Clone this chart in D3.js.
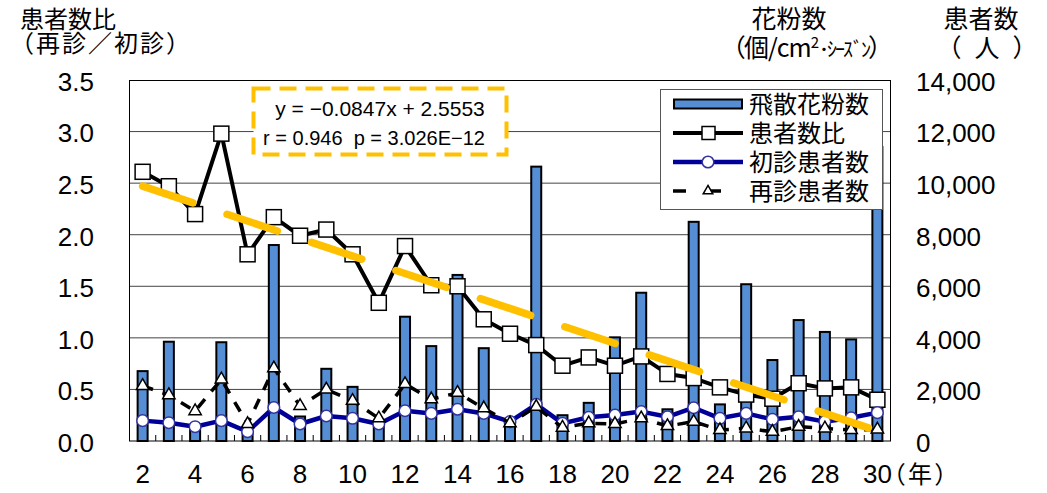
<!DOCTYPE html>
<html>
<head>
<meta charset="utf-8">
<script src="https://cdn.jsdelivr.net/npm/d3@7"></script>
<style>
  body { margin: 0; background: #fff; }
  text { font-family: "Noto Sans CJK JP", sans-serif; font-feature-settings: "palt"; fill: #000; }
  .num { font-family: "Liberation Sans", Arial, sans-serif; font-feature-settings: normal; }
</style>
</head>
<body>
<svg id="chart" width="1047" height="493"></svg>
<script>
// 平成2年〜30年
const years = [2, 3, 4, 5, 6, 7, 8, 9, 10, 11, 12, 13, 14, 15, 16, 17, 18, 19, 20, 21, 22, 23, 24, 25, 26, 27, 28, 29, 30];
const pollen = [2710, 3850, 500, 3830, 350, 7600, 950, 2800, 2100, 700, 4820, 3680, 6440, 3600, 750, 10640, 1000, 1480, 4020, 5750, 1230, 8500, 1420, 6080, 3140, 4690, 4230, 3940, 11400];
const ratio = [2.61, 2.47, 2.20, 2.98, 1.81, 2.17, 1.99, 2.05, 1.81, 1.34, 1.89, 1.51, 1.50, 1.18, 1.04, 0.93, 0.73, 0.81, 0.73, 0.82, 0.65, 0.61, 0.52, 0.45, 0.41, 0.56, 0.51, 0.52, 0.40];
const firstVisit = [790, 710, 555, 790, 360, 1300, 660, 970, 880, 660, 1175, 1070, 1230, 1070, 750, 1420, 685, 920, 1010, 1140, 940, 1290, 880, 1070, 840, 940, 750, 900, 1100];
const returnVisit = [2140, 1780, 1160, 2390, 660, 2820, 1360, 2000, 1560, 880, 2210, 1620, 1870, 1270, 690, 1330, 520, 690, 660, 880, 580, 750, 425, 490, 360, 555, 490, 425, 450];
const leftTicks = [0, 0.5, 1.0, 1.5, 2.0, 2.5, 3.0, 3.5];
const rightTicks = [0, 2000, 4000, 6000, 8000, 10000, 12000, 14000];
const xLabels = [2, 4, 6, 8, 10, 12, 14, 16, 18, 20, 22, 24, 26, 28, 30];
const slope = -0.0847, intercept = 2.5553;
const statsLines = ["y = \u22120.0847x + 2.5553", "r = 0.946  p = 3.026E\u221212"];
const legendNames = ["飛散花粉数", "患者数比", "初診患者数", "再診患者数"];

const svg = d3.select("#chart");
const plotL = 129.5, plotR = 890.5, plotT = 80, plotB = 441;

const x = d3.scaleBand().domain(years).range([plotL, plotR]);
const yL = d3.scaleLinear().domain([0, 3.5]).range([plotB, plotT]);
const yR = d3.scaleLinear().domain([0, 14000]).range([plotB, plotT]);
const cx = d => x(d) + x.bandwidth() / 2;

// gridlines
svg.append("g")
  .selectAll("line")
  .data(leftTicks.slice(1, -1))
  .join("line")
    .attr("x1", plotL).attr("x2", plotR)
    .attr("y1", d => yL(d)).attr("y2", d => yL(d))
    .attr("stroke", "#444").attr("stroke-width", 1);

// bars
svg.append("g")
  .selectAll("rect")
  .data(years)
  .join("rect")
    .attr("x", d => cx(d) - 5)
    .attr("y", (d, i) => yR(pollen[i]))
    .attr("width", 10)
    .attr("height", (d, i) => plotB - yR(pollen[i]))
    .attr("fill", "#558ed5")
    .attr("stroke", "#000")
    .attr("stroke-width", 2);

// frame
svg.append("rect")
  .attr("x", plotL).attr("y", plotT + 0.5)
  .attr("width", plotR - plotL).attr("height", plotB - plotT - 0.5)
  .attr("fill", "none").attr("stroke", "#000").attr("stroke-width", 1);

// inner minor ticks on the category axis
svg.append("g")
  .selectAll("line")
  .data(years.slice(1))
  .join("line")
    .attr("x1", d => x(d)).attr("x2", d => x(d))
    .attr("y1", plotB).attr("y2", plotB - 6)
    .attr("stroke", "#000");

// 患者数比
const ratioLine = d3.line().x(d => cx(d[0])).y(d => yL(d[1]));
svg.append("path")
  .datum(years.map((d, i) => [d, ratio[i]]))
  .attr("d", ratioLine)
  .attr("fill", "none").attr("stroke", "#000").attr("stroke-width", 4)
  .attr("stroke-linejoin", "round");
svg.append("g")
  .selectAll("rect")
  .data(years)
  .join("rect")
    .attr("x", d => cx(d) - 7.5)
    .attr("y", (d, i) => yL(ratio[i]) - 7.5)
    .attr("width", 15).attr("height", 15)
    .attr("fill", "#fff").attr("stroke", "#000").attr("stroke-width", 1.5);

// 初診患者数
const rLine = d3.line().x(d => cx(d[0])).y(d => yR(d[1]));
svg.append("path")
  .datum(years.map((d, i) => [d, firstVisit[i]]))
  .attr("d", rLine)
  .attr("fill", "none").attr("stroke", "#000099").attr("stroke-width", 4.5)
  .attr("stroke-linejoin", "round");
svg.append("g")
  .selectAll("circle")
  .data(years)
  .join("circle")
    .attr("cx", d => cx(d))
    .attr("cy", (d, i) => yR(firstVisit[i]))
    .attr("r", 5.8)
    .attr("fill", "#fff").attr("stroke", "#3333a0").attr("stroke-width", 1.5);

// 再診患者数
svg.append("path")
  .datum(years.map((d, i) => [d, returnVisit[i]]))
  .attr("d", rLine)
  .attr("fill", "none").attr("stroke", "#000").attr("stroke-width", 3.5)
  .attr("stroke-dasharray", "11,10");
const tri = d3.symbol(d3.symbolTriangle, 66);
svg.append("g")
  .selectAll("path")
  .data(years)
  .join("path")
    .attr("d", tri)
    .attr("transform", (d, i) => `translate(${cx(d)},${yR(returnVisit[i])})`)
    .attr("fill", "#fff").attr("stroke", "#000").attr("stroke-width", 1.5);

// regression line
const i0 = 1, i1 = years.length;
svg.append("line")
  .attr("x1", cx(years[0])).attr("y1", yL(slope * i0 + intercept))
  .attr("x2", cx(years[years.length - 1])).attr("y2", yL(slope * i1 + intercept))
  .attr("stroke", "#ffc000").attr("stroke-width", 7.5)
  .attr("stroke-linecap", "round")
  .attr("stroke-dasharray", "53,36");

// left axis
const axL = svg.append("g")
  .attr("transform", `translate(${plotL},0)`)
  .call(d3.axisLeft(yL).tickValues(leftTicks).tickSize(0).tickPadding(35.5).tickFormat(d3.format(".1f")));
axL.select(".domain").remove();
axL.selectAll("text").attr("class", "num").attr("font-size", 26).attr("dy", "0.4em");

// right axis
const axR = svg.append("g")
  .attr("transform", `translate(${plotR},0)`)
  .call(d3.axisRight(yR).tickValues(rightTicks).tickSize(0).tickPadding(25.5).tickFormat(d3.format(",")));
axR.select(".domain").remove();
axR.selectAll("text").attr("class", "num").attr("font-size", 26).attr("dy", "0.4em");

// bottom axis
const axB = svg.append("g")
  .attr("transform", `translate(0,${plotB})`)
  .call(d3.axisBottom(x).tickValues(xLabels).tickSize(0).tickPadding(23.5));
axB.select(".domain").remove();
axB.selectAll("text").attr("class", "num").attr("font-size", 26);

svg.append("text").attr("x", 893).attr("y", 483).attr("font-size", 24)
  .attr("letter-spacing", 3).text("（年）");

// axis titles (two lines in one text each)
const tL = svg.append("text").attr("font-size", 24);
tL.append("tspan").attr("x", 20).attr("y", 28).text("患者数比");
tL.append("tspan").attr("x", 10).attr("y", 52)
  .style("font-feature-settings", "normal").attr("letter-spacing", 2)
  .text("（再診／初診）");

const tP = svg.append("text").attr("font-size", 25).attr("text-anchor", "middle");
tP.append("tspan").attr("x", 789).attr("y", 28).text("花粉数");
tP.append("tspan").attr("x", 807).attr("y", 57).attr("letter-spacing", -1).text("（個/cm");
tP.append("tspan").attr("font-size", 15).attr("dy", -9).text("2");
tP.append("tspan").attr("font-size", 20).attr("dy", 9).attr("letter-spacing", -2).text("･ｼｰｽﾞﾝ");
tP.append("tspan").text("）");

const tN = svg.append("text").attr("font-size", 25).attr("text-anchor", "middle");
tN.append("tspan").attr("x", 981).attr("y", 28).text("患者数");
tN.append("tspan").attr("x", 994).attr("y", 57).attr("letter-spacing", 14).text("（人）");

// regression stats box
svg.append("rect")
  .attr("x", 253.5).attr("y", 88.5).attr("width", 253).attr("height", 66)
  .attr("fill", "#fff").attr("stroke", "#ffc000").attr("stroke-width", 4)
  .attr("stroke-dasharray", "17,9");
svg.append("g")
  .selectAll("text")
  .data(statsLines)
  .join("text")
    .attr("class", "num")
    .attr("x", (d, i) => i === 0 ? 380 : 374)
    .attr("y", (d, i) => 116 + i * 29)
    .attr("font-size", (d, i) => i === 0 ? 21 : 20)
    .attr("text-anchor", "middle")
    .style("white-space", "pre")
    .text(d => d);

// legend
const lg = svg.append("g");
lg.append("rect")
  .attr("x", 660.5).attr("y", 89.5).attr("width", 222).attr("height", 120)
  .attr("fill", "#fff").attr("stroke", "#555").attr("stroke-width", 1);
const rowY = i => 104 + i * 29;
lg.append("rect")
  .attr("x", 674).attr("y", rowY(0) - 4.5).attr("width", 68).attr("height", 9)
  .attr("fill", "#558ed5").attr("stroke", "#000").attr("stroke-width", 2);
lg.append("line").attr("x1", 673).attr("x2", 743).attr("y1", rowY(1)).attr("y2", rowY(1))
  .attr("stroke", "#000").attr("stroke-width", 4);
lg.append("rect").attr("x", 702).attr("y", rowY(1) - 6.5).attr("width", 13).attr("height", 13)
  .attr("fill", "#fff").attr("stroke", "#000").attr("stroke-width", 1.5);
lg.append("line").attr("x1", 673).attr("x2", 743).attr("y1", rowY(2)).attr("y2", rowY(2))
  .attr("stroke", "#000099").attr("stroke-width", 4.5);
lg.append("circle").attr("cx", 708).attr("cy", rowY(2)).attr("r", 5.8)
  .attr("fill", "#fff").attr("stroke", "#3333a0").attr("stroke-width", 1.5);
lg.append("line").attr("x1", 673).attr("x2", 743).attr("y1", rowY(3)).attr("y2", rowY(3))
  .attr("stroke", "#000").attr("stroke-width", 3.5).attr("stroke-dasharray", "13,22");
lg.append("path").attr("d", d3.symbol(d3.symbolTriangle, 40))
  .attr("transform", `translate(708,${rowY(3)})`)
  .attr("fill", "#fff").attr("stroke", "#000").attr("stroke-width", 1.5);
lg.selectAll("text.lab")
  .data(legendNames)
  .join("text")
    .attr("class", "lab")
    .attr("x", 749)
    .attr("y", (d, i) => rowY(i))
    .attr("dy", "0.36em")
    .attr("font-size", 24)
    .text(d => d);
</script>
</body>
</html>
